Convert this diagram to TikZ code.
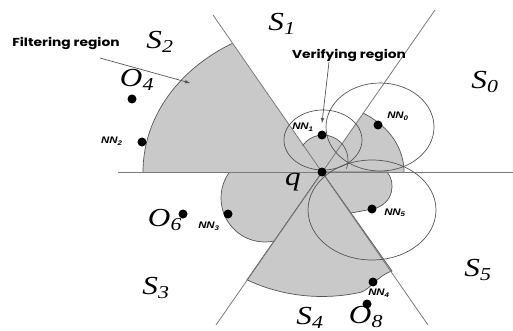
\documentclass[tikz,border=0pt]{standalone}
\usepackage{fontspec}
\setmainfont{Liberation Serif}
\setsansfont{Liberation Sans}
\newfontfamily\calloutfont{Poppins}
\definecolor{regiongray}{HTML}{C9C9C9}
\definecolor{edgegray}{HTML}{555555}
\definecolor{linegray}{HTML}{7A7A7A}
\newcommand{\wide}[1]{\scalebox{1.2}[1]{#1}}
\newcommand{\sect}[1]{\wide{S\textsubscript{#1}}}
\newcommand{\nn}[1]{\wide{NN\textsubscript{#1}}}

\begin{document}
\begin{tikzpicture}[x=1pt, y=-1pt,
    region/.style={fill=regiongray, draw=edgegray, line width=0.7pt},
    edge/.style={draw=edgegray, line width=0.7pt},
    sector/.style={draw=linegray, line width=0.8pt},
    dot/.style={circle, fill=black, inner sep=0pt, minimum size=9pt},
    nnlab/.style={font=\sffamily\bfseries\itshape\fontsize{9.5}{9.5}\selectfont, inner sep=0pt},
    seclab/.style={font=\itshape\fontsize{26}{26}\selectfont, inner sep=0pt},
    callout/.style={font=\calloutfont\bfseries\fontsize{11.5}{12}\selectfont, inner sep=0pt}]
  \useasboundingbox (0,0) rectangle (513,331);
  \coordinate (q) at (322,172);

  % filtering regions
  \begin{scope}
    \clip (q) -- (0,172) -- (0,0) -- (202,0) -- cycle;
    \draw[region] (q) ellipse [x radius=179, y radius=148.6];
  \end{scope}
  \begin{scope}
    \clip (q) -- (513,172) -- (513,0) -- (442,0) -- cycle;
    \draw[region] (q) ellipse [x radius=82, y radius=68];
  \end{scope}
  \begin{scope}
    \clip (q) -- (442,0) -- (202,0) -- cycle;
    \fill[regiongray] (323,160) circle [radius=25];
  \end{scope}
  \begin{scope}
    \clip (q) -- (0,172) -- (0,331) -- (211,331) -- cycle;
    \draw[region] (265,198) circle [radius=44];
    \fill[regiongray] (q) -- (262,172) -- (280,232) -- cycle;
  \end{scope}
  \draw[region] (q) -- (247,279.8) arc [start angle=120, end angle=75, x radius=150, y radius=124.5]
    .. controls (371,289) and (377,276) .. (392,271) -- cycle;
  \draw[region] (q) -- (387,172) .. controls (396,182) and (394,204) .. (373,209) -- (351,213) -- cycle;
  \draw[edge] (302.5,145.7) arc [start angle=215, end angle=380, radius=25];

  % sectors
  \coordinate (h0) at (118,172);
  \coordinate (h1) at (513,172);
  \coordinate (l1) at (213,15);
  \coordinate (l2) at (428,325);
  \coordinate (r1) at (435,10);
  \coordinate (r2) at (216,325);
  \draw[sector] (h0) -- (h1);
  \draw[sector] (l1) -- (l2);
  \draw[sector] (r1) -- (r2);

  % verifying regions
  \draw[edge] (323,140) ellipse [x radius=39, y radius=30];
  \draw[edge] (380,127) ellipse [x radius=54, y radius=44];
  \draw[edge] (372,210) ellipse [x radius=64, y radius=50];

  % points
  \node[dot] (qdot) at (q) {};
  \node[dot] (nn0) at (378,125) {};
  \node[dot] (nn1) at (322,135) {};
  \node[dot] (nn2) at (142,142) {};
  \node[dot] (nn3) at (228,214) {};
  \node[dot] (nn4) at (373,282) {};
  \node[dot] (nn5) at (372,209) {};
  \node[dot] (o4) at (132,99) {};
  \node[dot] (o6) at (183,214) {};
  \node[dot] (o8) at (367,304) {};

  \node[nnlab] (nn0l) at (398,116) {\nn{0}};
  \node[nnlab] (nn1l) at (303,127) {\nn{1}};
  \node[nnlab] (nn2l) at (112,141) {\nn{2}};
  \node[nnlab] (nn3l) at (209,226) {\nn{3}};
  \node[nnlab] (nn4l) at (379,293) {\nn{4}};
  \node[nnlab] (nn5l) at (395,213) {\nn{5}};

  \node[seclab] (o4l) at (137,80) {\wide{O\textsubscript{4}}};
  \node[seclab] (o6l) at (165,220) {\wide{O\textsubscript{6}}};
  \node[seclab] (o8l) at (366,317) {\wide{O\textsubscript{8}}};
  \node[seclab] (ql) at (293,182) {\wide{q}};

  \node[seclab] (s0) at (485,82) {\sect{0}};
  \node[seclab] (s1) at (282,24) {\sect{1}};
  \node[seclab] (s2) at (160,42) {\sect{2}};
  \node[seclab] (s3) at (156,288) {\sect{3}};
  \node[seclab] (s4) at (310,318) {\sect{4}};
  \node[seclab] (s5) at (478,270) {\sect{5}};

  % callouts
  \node[callout] (filt) at (66,43) {\wide{Filtering region}};
  \node[callout] (verif) at (349,55) {\wide{Verifying region}};
  \coordinate (filttail) at (100,58);
  \coordinate (filttip) at (190,83);
  \coordinate (veriftail) at (329,62);
  \coordinate (veriftip) at (322,123);
  \draw[edge, -latex] (filttail) -- (filttip);
  \draw[edge, -latex] (veriftail) -- (veriftip);
\end{tikzpicture}
\end{document}
